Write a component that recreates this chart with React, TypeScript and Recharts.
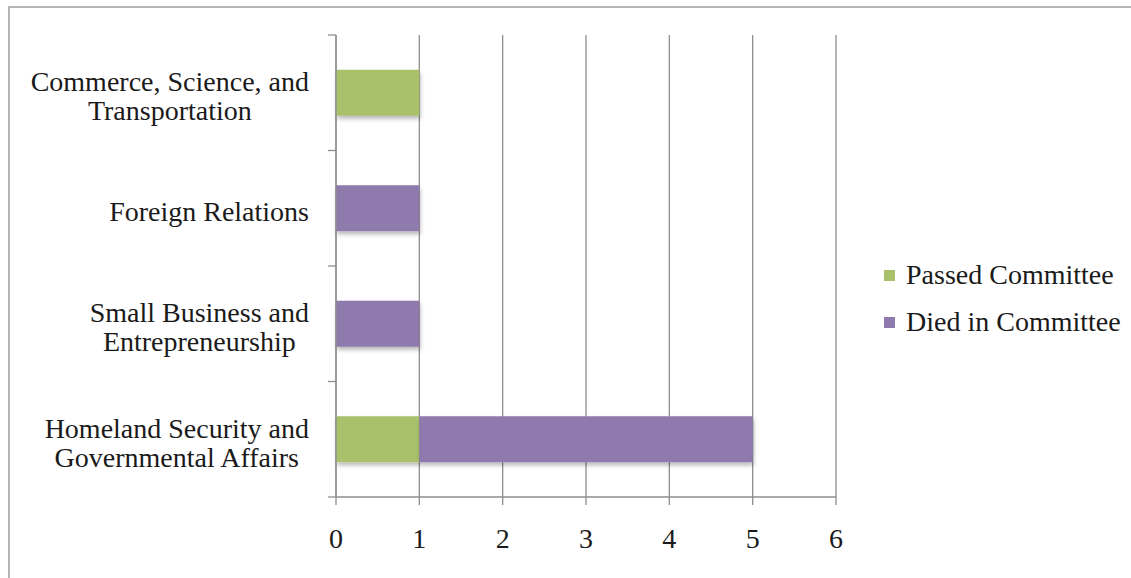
import React from 'react';
import { BarChart, Bar, XAxis, YAxis, CartesianGrid, Legend, Rectangle } from 'recharts';

// Senate committees, top to bottom; '\n' marks where the label wraps
const committees = [
  'Commerce, Science, and\nTransportation',
  'Foreign Relations',
  'Small Business and\nEntrepreneurship',
  'Homeland Security and\nGovernmental Affairs',
];
const passedCommittee = [1, 0, 0, 1];
const diedInCommittee = [0, 1, 1, 4];
const countTicks = [0, 1, 2, 3, 4, 5, 6];

const FONT = '"Liberation Serif", "Times New Roman", serif';
const FONT_SIZE = 28;
const LINE_GAP = 29;
const LABEL_GAP = 27;
const TICK_LEN = 8;
const GREEN = '#a9c16b';
const PURPLE = '#8f7aae';
const GRID = '#8e8e8e';

const data = committees.map((name, i) => ({
  name,
  passed: passedCommittee[i],
  died: diedInCommittee[i],
}));

let measureCtx: CanvasRenderingContext2D | null = null;
const textWidth = (s: string) => {
  if (!measureCtx) {
    measureCtx = document.createElement('canvas').getContext('2d');
  }
  if (!measureCtx) return s.length * FONT_SIZE * 0.45;
  measureCtx.font = `${FONT_SIZE}px ${FONT}`;
  return measureCtx.measureText(s).width;
};

// Multi-line category label, lines centred inside the block, block right-aligned to the axis.
// Tick marks sit on the band boundaries rather than the band centre.
const CommitteeTick = ({ x, y, payload, index, visibleTicksCount }: any) => {
  const lines: string[] = String(payload.value).split('\n');
  const blockWidth = Math.max(...lines.map(textWidth));
  const cx = x - blockWidth / 2;
  const axisX = x + LABEL_GAP;
  const half = payload.offset ?? 0;
  const last = index === visibleTicksCount - 1;
  return (
    <g>
      <line x1={axisX - TICK_LEN} x2={axisX} y1={y - half} y2={y - half} stroke={GRID} strokeWidth={1.3} />
      {last && (
        <line x1={axisX - TICK_LEN} x2={axisX} y1={y + half} y2={y + half} stroke={GRID} strokeWidth={1.3} />
      )}
      {lines.map((line, i) => (
        <text
          key={i}
          x={cx}
          y={y + 3 + (i - (lines.length - 1) / 2) * LINE_GAP}
          dy="0.35em"
          textAnchor="middle"
          fill="#1a1a1a"
          fontFamily={FONT}
          fontSize={FONT_SIZE}
        >
          {line}
        </text>
      ))}
    </g>
  );
};

const ShadowBar = (props: any) => <Rectangle {...props} filter="url(#barShadow)" />;

const LegendBox = () => {
  const items = [
    { label: 'Passed Committee', color: GREEN },
    { label: 'Died in Committee', color: PURPLE },
  ];
  return (
    <div style={{ fontFamily: FONT, fontSize: FONT_SIZE, color: '#1a1a1a' }}>
      {items.map((it) => (
        <div key={it.label} style={{ display: 'flex', alignItems: 'center', height: 47, whiteSpace: 'nowrap' }}>
          <span style={{ width: 11, height: 11, background: it.color, marginRight: 11, marginTop: 2 }} />
          <span>{it.label}</span>
        </div>
      ))}
    </div>
  );
};

export default function App() {
  return (
    <div
      style={{
        position: 'absolute',
        left: 8,
        top: 6,
        width: 1140,
        height: 590,
        border: '2px solid #b5b5b5',
        boxSizing: 'border-box',
        background: '#fff',
      }}
    >
      <svg width={0} height={0} style={{ position: 'absolute' }}>
        <defs>
          <filter id="barShadow" x="-10%" y="-20%" width="130%" height="160%">
            <feDropShadow dx="1" dy="3" stdDeviation="2" floodColor="#000" floodOpacity="0.28" />
          </filter>
        </defs>
      </svg>
      <BarChart
        width={1120}
        height={570}
        data={data}
        layout="vertical"
        margin={{ top: 27, right: 54, bottom: 21, left: 10 }}
        barCategoryGap="30%"
      >
        <CartesianGrid horizontal={false} stroke={GRID} strokeWidth={1.3} />
        <XAxis
          type="number"
          domain={[0, 6]}
          ticks={countTicks}
          interval={0}
          height={60}
          stroke={GRID}
          strokeWidth={1.3}
          tickSize={TICK_LEN}
          tickMargin={23}
          tick={{ fill: '#1a1a1a', fontFamily: FONT, fontSize: FONT_SIZE }}
        />
        <YAxis
          type="category"
          dataKey="name"
          width={316}
          stroke={GRID}
          strokeWidth={1.3}
          tickLine={false}
          tickSize={0}
          tickMargin={LABEL_GAP}
          interval={0}
          tick={<CommitteeTick />}
        />
        <Legend
          layout="vertical"
          align="right"
          verticalAlign="middle"
          width={240}
          wrapperStyle={{ left: 874, top: 243, width: 240 }}
          content={<LegendBox />}
        />
        <Bar dataKey="passed" name="Passed Committee" stackId="a" fill={GREEN} shape={ShadowBar} isAnimationActive={false} />
        <Bar dataKey="died" name="Died in Committee" stackId="a" fill={PURPLE} shape={ShadowBar} isAnimationActive={false} />
      </BarChart>
    </div>
  );
}
